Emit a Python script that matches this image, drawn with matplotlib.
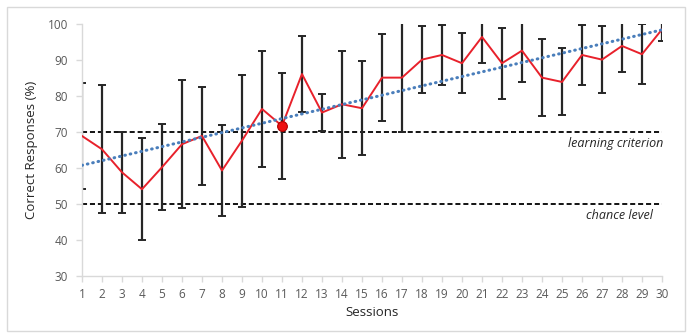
import numpy as np
import matplotlib
matplotlib.use("Agg")
import matplotlib.pyplot as plt
from matplotlib.patches import Rectangle

sessions = list(range(1, 31))
mean_correct = [68.9, 65.2, 58.8, 54.1, 60.2, 66.6, 68.9, 59.3, 67.6, 76.4,
                71.7, 86.1, 75.4, 77.7, 76.6, 85.1, 85.1, 90.1, 91.4, 89.1,
                96.4, 89.1, 92.6, 85.1, 83.9, 91.4, 90.1, 93.9, 91.6, 98.5]
sd_correct = [14.6, 17.8, 11.2, 14.2, 12.0, 17.8, 13.6, 12.6, 18.3, 16.0,
              14.7, 10.6, 5.2, 14.8, 13.0, 12.0, 15.1, 9.3, 8.3, 8.3,
              7.3, 9.9, 8.8, 10.7, 9.3, 8.3, 9.3, 7.3, 8.3, 3.2]
highlight_session = 11
learning_criterion = 70
chance_level = 50
y_ticks = [30, 40, 50, 60, 70, 80, 90, 100]

plt.rcParams['font.family'] = ['Open Sans', 'DejaVu Sans']

fig = plt.figure(figsize=(6.9, 3.36), dpi=100)
ax = fig.add_axes([0.1188, 0.1786, 0.8406, 0.75])

x = np.array(sessions)
y = np.array(mean_correct)
err = np.array(sd_correct)

ax.errorbar(x, y, yerr=err, fmt='none', ecolor='#262626', elinewidth=1.6,
            capsize=3, capthick=1.4, zorder=2)
ax.plot(x, y, color='#e8212b', lw=1.4, zorder=3)

# linear trend of the session means
coef = np.polyfit(x, y, 1)
ax.plot(x, np.polyval(coef, x), color='#4a7ebb', lw=2.2, ls=(0, (0.2, 1.6)),
        dash_capstyle='round', zorder=4)

hi = sessions.index(highlight_session)
ax.plot([x[hi]], [y[hi]], 'o', ms=7, color='#ee1111', mec='#b00000',
        mew=0.8, zorder=5)

ax.axhline(learning_criterion, color='black', lw=1.3, ls=(0, (2.8, 1.6)), zorder=1)
ax.axhline(chance_level, color='black', lw=1.3, ls=(0, (2.8, 1.6)), zorder=1)
ax.text(30.05, learning_criterion - 3.1, 'learning criterion', style='italic',
        ha='right', va='center', fontsize=9, color='#262626')
ax.text(29.55, chance_level - 3.1, 'chance level', style='italic',
        ha='right', va='center', fontsize=9, color='#262626')

ax.set_xlim(1, 30)
ax.set_ylim(30, 100)
ax.set_xticks(sessions)
ax.set_yticks(y_ticks)
ax.tick_params(axis='both', colors='#d9d9d9', labelcolor='#595959',
               labelsize=8.5, length=4, width=1)
ax.tick_params(axis='x', pad=5)
ax.tick_params(axis='y', pad=6)
for s in ['top', 'right']:
    ax.spines[s].set_visible(False)
for s in ['left', 'bottom']:
    ax.spines[s].set_color('#d9d9d9')
    ax.spines[s].set_linewidth(1)

ax.set_xlabel('Sessions', fontsize=9.5, color='#262626', labelpad=3)
ax.set_ylabel('Correct Responses (%)', fontsize=9.5, color='#262626', labelpad=7)

fig.patches.append(Rectangle((7 / 690, 1 - 331 / 336), 678 / 690, 324 / 336,
                             transform=fig.transFigure, fill=False,
                             edgecolor='#d9d9d9', lw=1))

fig.savefig('out.png', dpi=100)
